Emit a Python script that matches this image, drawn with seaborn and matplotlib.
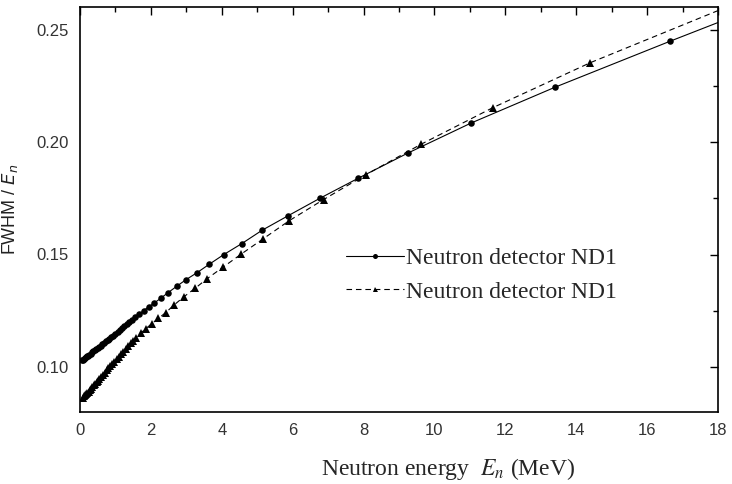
import numpy as np
import pandas as pd
import matplotlib
matplotlib.use("Agg")
import matplotlib.pyplot as plt
import seaborn as sns
from matplotlib.ticker import MultipleLocator

# Series 1 (circles, solid)
x1 = [0.05, 0.08, 0.11, 0.14, 0.17, 0.20, 0.23, 0.26, 0.30, 0.34, 0.38, 0.42, 0.46,
      0.50, 0.54, 0.58, 0.63, 0.68, 0.73, 0.78, 0.83, 0.88, 0.94, 1.00, 1.06, 1.12,
      1.18, 1.25, 1.32, 1.39, 1.46, 1.54, 1.67, 1.80, 1.94, 2.10, 2.29, 2.49, 2.73,
      2.99, 3.30, 3.65, 4.06, 4.56, 5.14, 5.88, 6.77, 7.85, 9.24, 11.03, 13.41,
      16.65, 18.0]
y1 = [0.1029, 0.1032, 0.1036, 0.1040, 0.1043, 0.1047, 0.1051, 0.1055, 0.1060, 0.1065,
      0.1070, 0.1075, 0.1080, 0.1085, 0.1090, 0.1095, 0.1101, 0.1107, 0.1114, 0.1120,
      0.1126, 0.1132, 0.1140, 0.1148, 0.1157, 0.1165, 0.1173, 0.1183, 0.1192, 0.1202,
      0.1211, 0.1222, 0.1236, 0.1251, 0.1268, 0.1285, 0.1307, 0.1331, 0.1359, 0.1388,
      0.1419, 0.1457, 0.1500, 0.1548, 0.1608, 0.1673, 0.1750, 0.1839, 0.1950, 0.2084,
      0.2244, 0.2448, 0.2531]

# Series 2 (triangles, dashed)
x2 = [0.09, 0.12, 0.15, 0.18, 0.21, 0.24, 0.27, 0.31, 0.35, 0.39, 0.43, 0.47, 0.51,
      0.55, 0.60, 0.65, 0.70, 0.75, 0.80, 0.85, 0.91, 0.97, 1.03, 1.09, 1.15, 1.22,
      1.29, 1.36, 1.43, 1.50, 1.58, 1.71, 1.86, 2.02, 2.21, 2.42, 2.65, 2.93, 3.25,
      3.59, 4.03, 4.54, 5.17, 5.91, 6.87, 8.07, 9.61, 11.64, 14.39, 18.0]
y2 = [0.0863, 0.0869, 0.0874, 0.0880, 0.0885, 0.0891, 0.0896, 0.0904, 0.0911, 0.0918,
      0.0926, 0.0933, 0.0940, 0.0948, 0.0957, 0.0966, 0.0975, 0.0985, 0.0994, 0.1003,
      0.1014, 0.1024, 0.1035, 0.1045, 0.1056, 0.1068, 0.1080, 0.1092, 0.1105, 0.1117,
      0.1131, 0.1150, 0.1171, 0.1192, 0.1216, 0.1242, 0.1275, 0.1312, 0.1350, 0.1393,
      0.1443, 0.1501, 0.1570, 0.1651, 0.1744, 0.1855, 0.1989, 0.2152, 0.2352, 0.2584]

labels = ["Neutron detector ND1", "Neutron detector ND1"]
xticks = [0, 2, 4, 6, 8, 10, 12, 14, 16, 18]
yticks = [0.10, 0.15, 0.20, 0.25]

sns.set_theme(style="white")
plt.rcParams["font.family"] = ["Liberation Sans", "DejaVu Sans"]

fig = plt.figure(figsize=(7.32, 4.84), dpi=100)
ax = fig.add_axes([80/732, 1-412/484, (718-80)/732, (412-7)/484])

df1 = pd.DataFrame({"x": x1, "y": y1})
df2 = pd.DataFrame({"x": x2, "y": y2})

sns.lineplot(data=df1, x="x", y="y", ax=ax, color="black", lw=0.8, sort=False,
             marker="o", markersize=4.7, markeredgewidth=0, label=labels[0],
             markevery=list(range(len(x1) - 1)))
sns.lineplot(data=df2, x="x", y="y", ax=ax, color="black", lw=0.8, sort=False,
             linestyle=(0, (5, 3.5)), marker="^", markersize=5.3, markeredgewidth=0,
             label=labels[1], markevery=list(range(len(x2) - 1)))

ax.set_xlim(0, 18)
ax.set_ylim(0.08, 0.26)
ax.set_xticks(xticks)
ax.set_yticks(yticks)
ax.set_xticklabels([str(t) for t in xticks])
ax.set_yticklabels([f"{t:.2f}" for t in yticks])
ax.xaxis.set_minor_locator(MultipleLocator(1))
ax.yaxis.set_minor_locator(MultipleLocator(0.025))
ax.tick_params(which="both", direction="in", top=True, right=True, color="black",
               width=1.0, labelsize=12, labelcolor="#333333")
ax.tick_params(which="major", length=6, pad=8)
ax.tick_params(which="minor", length=3.5)
for s in ax.spines.values():
    s.set_color("black")
    s.set_linewidth(1.2)

ax.set_xlabel("Neutron energy  $E_n$ (MeV)", fontsize=17,
              fontfamily="Liberation Serif", math_fontfamily="stix", labelpad=13,
              x=(448-80)/638)
ax.set_ylabel("FWHM / $E_n$", fontsize=13, math_fontfamily="dejavusans",
              labelpad=12, color="#222222")

leg = ax.legend(loc="upper left", bbox_to_anchor=(334/732, 1-236/484),
                bbox_transform=fig.transFigure, frameon=False, handlelength=2.45,
                handletextpad=0.08, numpoints=1, labelspacing=0.5,
                prop={"family": "Liberation Serif", "size": 17}, borderpad=0)
for h in leg.legend_handles:
    h.set_markersize(3.6)

fig.savefig("out.png", dpi=100)
